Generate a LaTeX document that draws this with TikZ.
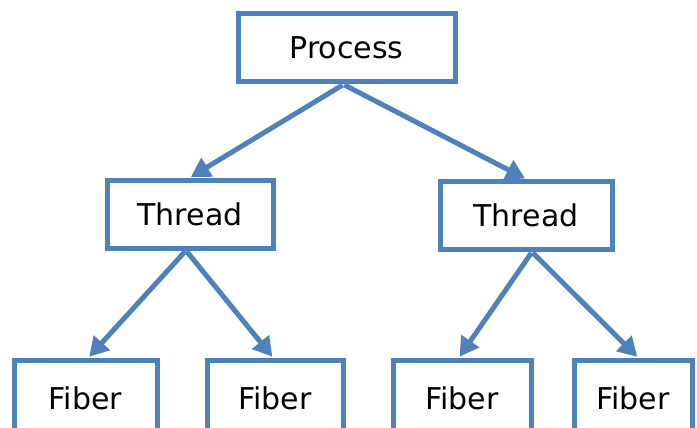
\documentclass[tikz,border=0pt]{standalone}
\usepackage{fontspec}
\setmainfont{DejaVu Sans}
\usepackage{tikz}
\usetikzlibrary{arrows.meta}

\definecolor{boxblue}{HTML}{4F81BD}

\tikzset{
  unit/.style={draw=boxblue, line width=5pt, rectangle, inner sep=0pt,
    minimum height=68pt, font=\fontsize{30}{36}\selectfont},
  leaf/.style={unit, minimum height=80pt},
  link/.style={draw=boxblue, line width=5pt,
    -{Triangle[length=19pt,width=21pt]}, shorten <=1pt, shorten >=1pt}
}

\begin{document}
\begin{tikzpicture}[x=1pt, y=-1pt]

        \useasboundingbox (0,0) rectangle (697,428);
        \clip (0,0) rectangle (697,428);

        \node[unit, minimum width=217pt] (proc) at (346.5,48) {Process};

        \node[unit, minimum width=166pt] (thL) at (190,214) {Thread};
        \node[unit, minimum width=172pt] (thR) at (526,215.5) {Thread};

        \node[leaf, minimum width=143pt] (fibA) at (85.5,400) {\raisebox{4pt}{Fiber}};
        \node[leaf, minimum width=136pt] (fibB) at (275,400) {\raisebox{4pt}{Fiber}};
        \node[leaf, minimum width=138pt] (fibC) at (462,400) {\raisebox{4pt}{Fiber}};
        \node[leaf, minimum width=118pt] (fibD) at (633,400) {\raisebox{4pt}{Fiber}};

        \draw[link] ([xshift=-3pt]proc.south) -- (thL.north);
        \draw[link] ([xshift=-3pt]proc.south) -- (thR.north);

        \draw[link] ([xshift=-4pt]thL.south) -- ([xshift=3pt]fibA.north);
        \draw[link] ([xshift=-4pt]thL.south) -- ([xshift=-2pt]fibB.north);

        \draw[link] ([xshift=6pt]thR.south) -- ([xshift=-3pt]fibC.north);
        \draw[link] ([xshift=6pt]thR.south) -- ([xshift=5pt]fibD.north);

    \end{tikzpicture}
\end{document}
